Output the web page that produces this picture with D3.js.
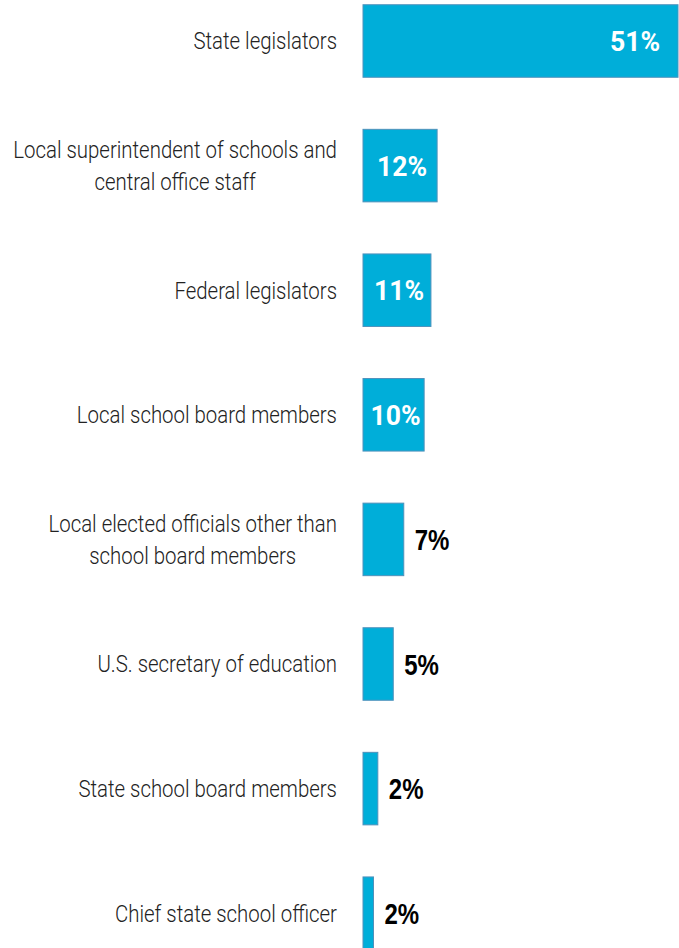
<!DOCTYPE html>
<html><head><meta charset="utf-8">
<script src="https://cdn.jsdelivr.net/npm/d3@7"></script>
<style>html,body{margin:0;padding:0;background:#fff;overflow:hidden}</style>
</head><body>
<svg id="chart" width="679" height="948"></svg>
<script>
const categories = [
  ["State legislators"],
  ["Local superintendent of schools and", "central office staff"],
  ["Federal legislators"],
  ["Local school board members"],
  ["Local elected officials other than", "school board members"],
  ["U.S. secretary of education"],
  ["State school board members"],
  ["Chief state school officer"]
];
const values = [51, 12, 11, 9.9, 6.6, 4.9, 2.4, 1.7];

const svg = d3.select("#chart");
const keys = categories.map((c, i) => i);
const y = d3.scaleBand().domain(keys).range([-21.3, 975.5]).paddingInner(0.418).paddingOuter(0.209);
const x = d3.scaleLinear().domain([0, 51]).range([363, 678]);

svg.selectAll("rect.bar").data(values).join("rect")
  .attr("class", "bar")
  .attr("x", x(0))
  .attr("y", (d, i) => y(i))
  .attr("width", d => x(d) - x(0))
  .attr("height", y.bandwidth())
  .attr("fill", "#00aed9")
  .attr("stroke", "#4f91bb")
  .attr("stroke-width", 1);

// category labels: block right-aligned at 337, lines centered within block
const SX = 0.85;
const lab = svg.selectAll("g.lab").data(categories).join("g")
  .attr("class", "lab")
  .attr("transform", (d, i) => `translate(0,${y(i) + y.bandwidth() / 2})`);
lab.each(function(lines) {
  const g = d3.select(this);
  const lh = 32;
  const off = -(lines.length - 1) * lh / 2;
  const texts = lines.map((t, j) => g.append("text")
      .attr("text-anchor", "middle")
      .attr("dy", "0.35em")
      .attr("font-family", "Roboto")
      .attr("font-weight", 300)
      .attr("font-size", 24)
      .attr("fill", "#222")
      .text(t));
  const maxW = d3.max(texts, t => t.node().getComputedTextLength()) * SX;
  const cx = 337 - maxW / 2;
  texts.forEach((t, j) => t.attr("transform", `translate(${cx},${off + j * lh}) scale(${SX},1)`));
});

// value labels
svg.selectAll("g.val").data(values).join("g")
  .attr("class", "val")
  .each(function(d, i) {
    const g = d3.select(this);
    const cy = y(i) + y.bandwidth() / 2;
    const txt = Math.round(d) + "%";
    if (d >= 9.5) {
      const cx = Math.max((x(0) + x(d)) / 2 + 2, x(d) - 43);
      g.append("text")
        .attr("transform", `translate(${cx},${cy}) scale(0.95,1)`)
        .attr("text-anchor", "middle")
        .attr("dy", "0.36em")
        .attr("font-family", "Roboto")
        .attr("font-weight", 700)
        .attr("font-size", 28)
        .attr("fill", "#fff")
        .text(txt);
    } else {
      g.append("text")
        .attr("transform", `translate(${x(d) + 11},${cy}) scale(0.8,1)`)
        .attr("text-anchor", "start")
        .attr("dy", "0.36em")
        .attr("font-family", "Liberation Sans")
        .attr("font-weight", 700)
        .attr("font-size", 30)
        .attr("fill", "#000")
        .text(txt);
    }
  });
</script>
</body></html>
